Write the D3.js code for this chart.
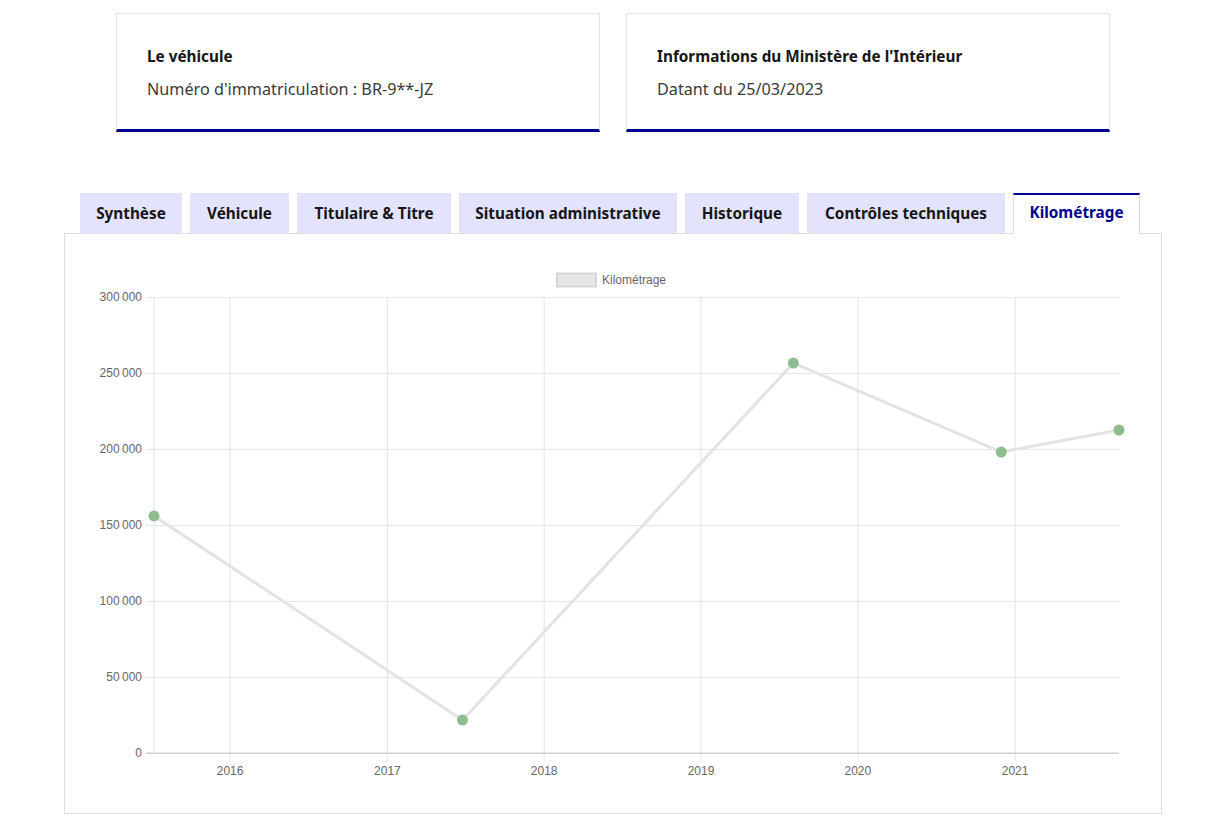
<!DOCTYPE html>
<html><head><meta charset="utf-8">
<script src="https://cdn.jsdelivr.net/npm/d3@7"></script>
<style>
body{margin:0;background:#fff;width:1224px;height:831px;overflow:hidden;font-family:"Noto Sans","Open Sans",sans-serif;}
.card{position:absolute;top:13px;width:482px;height:115px;border:1px solid #e5e5e5;border-bottom:3px solid #000091;box-sizing:content-box;}
.card .t{position:absolute;left:30px;top:32px;font-weight:700;font-size:15.3px;color:#161616;}
.card .s{position:absolute;left:30px;top:64px;font-size:16.2px;color:#3a3a3a;}
.tab{position:absolute;top:193px;height:40px;background:#e3e3fd;color:#161616;font-weight:700;font-size:15.3px;display:flex;align-items:center;justify-content:center;box-sizing:border-box;}
.tab.active{background:#fff;color:#000091;border-top:2px solid #000091;border-left:1px solid #ddd;border-right:1px solid #ddd;height:41px;padding-bottom:5px;z-index:2;}
.panel{position:absolute;left:64px;top:233px;width:1098px;height:581px;border:1px solid #ddd;box-sizing:border-box;}
svg{position:absolute;left:0;top:0;}
</style></head><body>
<div id="root"></div>
<script>
const cards = [
  {title:"Le véhicule", sub:"Numéro d'immatriculation : BR-9**-JZ"},
  {title:"Informations du Ministère de l'Intérieur", sub:"Datant du 25/03/2023"}
];
const tabs = ["Synthèse","Véhicule","Titulaire & Titre","Situation administrative","Historique","Contrôles techniques","Kilométrage"];
const activeTab = "Kilométrage";
const seriesName = "Kilométrage";
const dates = ["2015-07-09","2017-06-26","2019-08-05","2020-12-01","2021-09-01"];
const km = [156000, 21700, 256500, 198000, 212500];
const yTicks = [0,50000,100000,150000,200000,250000,300000];
const xTicks = ["2016","2017","2018","2019","2020","2021"];

const root = d3.select("#root");
const cardX = [116, 626];
cards.forEach((c,i)=>{
  const d = root.append("div").attr("class","card").style("left",cardX[i]+"px");
  d.append("div").attr("class","t").text(c.title);
  d.append("div").attr("class","s").text(c.sub);
});
const tabPos = [[80,102],[190,99],[297,154],[459,218],[685,114],[807,198],[1013,127]];
root.append("div").attr("class","panel");
tabs.forEach((t,i)=>{
  root.append("div").attr("class","tab"+(t===activeTab?" active":""))
    .style("left",tabPos[i][0]+"px").style("width",tabPos[i][1]+"px").text(t);
});

const svg = root.append("svg").attr("width",1224).attr("height",831);
const parse = d3.timeParse("%Y-%m-%d");
const data = dates.map((d,i)=>({date:parse(d), v:km[i]}));
const x = d3.scaleTime().domain(d3.extent(data,d=>d.date)).range([154,1119]);
const y = d3.scaleLinear().domain([0,300000]).range([753,297]);
const font = '"Liberation Sans", Arial, Helvetica, sans-serif';
const fmt = v => d3.format(",")(v).replace(/,/g,"\u202f");

// horizontal grid
const gy = svg.append("g").attr("transform","translate(154,0)")
  .call(d3.axisLeft(y).tickValues(yTicks).tickSize(8).tickPadding(4).tickFormat(fmt));
gy.select(".domain").remove();
gy.selectAll(".tick line").attr("stroke","#e5e5e5").attr("x2",1119-154).attr("x1",-8);
gy.selectAll(".tick").filter(d=>d===0).select("line").attr("stroke","#cfcfcf");
gy.selectAll("text").attr("fill","#666").style("font-family",font).style("font-size","12px");

// vertical grid
const xt = xTicks.map(s=>parse(s+"-01-01"));
const gx = svg.append("g").attr("transform","translate(0,753)")
  .call(d3.axisBottom(x).tickValues(xt).tickSize(8).tickPadding(5).tickFormat(d3.timeFormat("%Y")));
gx.select(".domain").remove();
gx.selectAll(".tick line").attr("stroke","#e5e5e5").attr("y1",-(753-297)).attr("y2",8);
gx.selectAll("text").attr("fill","#666").style("font-family",font).style("font-size","12px");
svg.append("line").attr("x1",154).attr("x2",154).attr("y1",297).attr("y2",753).attr("stroke","#e5e5e5");
svg.append("line").attr("x1",146).attr("x2",1119).attr("y1",y(0)).attr("y2",y(0)).attr("stroke","#cfcfcf");

// line
svg.append("path").datum(data)
  .attr("d",d3.line().x(d=>x(d.date)).y(d=>y(d.v)))
  .attr("fill","none").attr("stroke","#e3e3e3").attr("stroke-width",3);
svg.selectAll("circle").data(data).join("circle")
  .attr("cx",d=>x(d.date)).attr("cy",d=>y(d.v)).attr("r",5.5).attr("fill","#8fbc8f");

// legend
svg.append("rect").attr("x",557).attr("y",273.5).attr("width",39).attr("height",13)
  .attr("fill","#e6e6e6").attr("stroke","#d6d6d6").attr("stroke-width",2);
svg.append("text").attr("x",602).attr("y",284).text(seriesName)
  .attr("fill","#666").style("font-family",font).style("font-size","12px");
</script>
</body></html>
